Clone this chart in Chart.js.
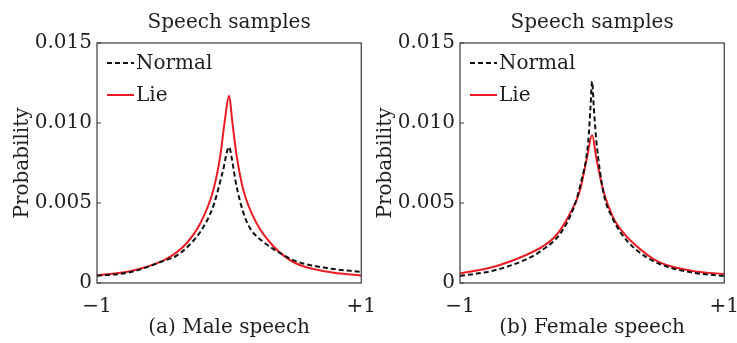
<!DOCTYPE html>
<html>
<head>
<meta charset="utf-8">
<script src="https://cdn.jsdelivr.net/npm/chart.js@4"></script>
<style>
  html, body { margin: 0; padding: 0; background: #fff; overflow: hidden; }
  body { width: 737px; height: 343px; position: relative; }
  canvas { position: absolute; top: 0; }
  #male { left: 0; }
  #female { left: 363px; }
</style>
</head>
<body>
<canvas id="male" width="388" height="343"></canvas>
<canvas id="female" width="388" height="343"></canvas>
<script>
// data (x from -1 to +1, probability)
const maleNormalX = [-1, -0.75, -0.5, -0.4, -0.31, -0.21, -0.12, -0.05, 0, 0.02, 0.05, 0.083, 0.12, 0.16, 0.27, 0.38, 0.5, 0.75, 1];
const maleNormalY = [0.00045, 0.00067, 0.00137, 0.0017, 0.0023, 0.0033, 0.0048, 0.0069, 0.0085, 0.0078, 0.0063, 0.0051, 0.0041, 0.0034, 0.0025, 0.0019, 0.00138, 0.00092, 0.0007];
const maleLieX = [-1, -0.75, -0.5, -0.4, -0.32, -0.22, -0.12, -0.068, -0.035, 0, 0.025, 0.058, 0.108, 0.21, 0.335, 0.5, 0.75, 1];
const maleLieY = [0.00048, 0.00074, 0.0014, 0.0019, 0.0025, 0.0037, 0.0058, 0.0079, 0.0100, 0.0117, 0.0100, 0.0079, 0.0058, 0.0037, 0.0023, 0.00125, 0.0007, 0.00046];

const femaleNormalX = [-1, -0.75, -0.5, -0.37, -0.24, -0.14, -0.09, -0.03, -0.013, 0, 0.013, 0.033, 0.087, 0.158, 0.22, 0.33, 0.5, 0.76, 1];
const femaleNormalY = [0.00044, 0.00077, 0.00148, 0.0021, 0.0031, 0.0047, 0.0061, 0.0088, 0.0109, 0.0126, 0.0109, 0.0088, 0.0056, 0.0040, 0.0031, 0.0021, 0.00123, 0.00065, 0.00044];
const femaleLieX = [-1, -0.75, -0.5, -0.37, -0.27, -0.17, -0.095, -0.04, 0, 0.032, 0.087, 0.158, 0.22, 0.31, 0.5, 0.75, 1];
const femaleLieY = [0.0006, 0.001, 0.00175, 0.0023, 0.003, 0.0043, 0.0057, 0.0078, 0.00925, 0.0078, 0.0057, 0.0041, 0.0033, 0.0025, 0.00133, 0.00077, 0.00056];

const seriesNames = ['Normal', 'Lie'];
const xTickValues = [-1, 1];
const xTickLabels = ['\u22121', '+1'];
const yTickValues = [0, 0.005, 0.010, 0.015];
const yTickLabels = ['0', '0.005', '0.010', '0.015'];
const chartTitle = 'Speech samples';
const yTitle = 'Probability';
const xTitles = ['(a) Male speech', '(b) Female speech'];

const FONT = 'DejaVu Serif';
const TEXT = '#1e1e1e';
const RED = '#ec1c24';
const BLACK = '#111';

function pts(xs, ys) { return xs.map((x, i) => ({ x: x, y: ys[i] })); }

// box round the plot, small inward ticks, legend inside the plot
const framePlugin = {
  id: 'frame',
  afterDatasetsDraw(chart) {
    const { ctx, chartArea: a, scales } = chart;
    ctx.save();
    ctx.strokeStyle = '#3a3a3a';
    ctx.lineWidth = 1.2;
    ctx.strokeRect(a.left, a.top, a.right - a.left, a.bottom - a.top);
    ctx.beginPath();
    yTickValues.forEach(v => {
      const y = scales.y.getPixelForValue(v);
      ctx.moveTo(a.left, y);
      ctx.lineTo(a.left + 4, y);
    });
    ctx.stroke();
    // legend
    chart.data.datasets.forEach((ds, i) => {
      const y = a.top + 20 + i * 32;
      ctx.strokeStyle = ds.borderColor;
      ctx.lineWidth = 2;
      ctx.setLineDash(ds.borderDash || []);
      ctx.beginPath();
      ctx.moveTo(a.left + 10, y);
      ctx.lineTo(a.left + 37, y);
      ctx.stroke();
      ctx.setLineDash([]);
      ctx.fillStyle = TEXT;
      ctx.font = '20px "' + FONT + '"';
      ctx.textBaseline = 'middle';
      ctx.textAlign = 'left';
      ctx.fillText(ds.label, a.left + 39, y + 1);
    });
    ctx.restore();
  }
};

function makeChart(id, normal, lie, xTitle) {
  return new Chart(document.getElementById(id), {
    type: 'line',
    data: {
      datasets: [
        { label: seriesNames[0], data: normal, borderColor: BLACK, borderDash: [5, 3], borderWidth: 2, pointRadius: 0, cubicInterpolationMode: 'monotone' },
        { label: seriesNames[1], data: lie, borderColor: RED, borderWidth: 2, pointRadius: 0, cubicInterpolationMode: 'monotone' }
      ]
    },
    options: {
      responsive: false,
      animation: false,
      devicePixelRatio: 1,
      layout: { padding: { left: 0, right: 20, top: 0, bottom: 0 } },
      plugins: {
        legend: { display: false },
        tooltip: { enabled: false },
        title: {
          display: true, text: chartTitle, color: TEXT, fullSize: false,
          font: { family: FONT, size: 20, weight: 'normal' },
          padding: { top: 11, bottom: 8 }
        }
      },
      scales: {
        x: {
          type: 'linear', min: -1, max: 1,
          grid: { display: false, drawTicks: false },
          border: { display: false },
          afterBuildTicks: s => { s.ticks = xTickValues.map(v => ({ value: v })); },
          afterFit: s => { s.height = 60; },
          ticks: {
            color: TEXT, padding: 12, maxRotation: 0, autoSkip: false,
            font: { family: FONT, size: 20 },
            callback: v => xTickLabels[xTickValues.indexOf(v)]
          },
          title: {
            display: true, text: xTitle, color: TEXT,
            font: { family: FONT, size: 20 },
            padding: { top: 0, bottom: 3 }
          }
        },
        y: {
          min: 0, max: 0.015,
          grid: { display: false, drawTicks: false },
          border: { display: false },
          afterBuildTicks: s => { s.ticks = yTickValues.map(v => ({ value: v })); },
          afterFit: s => { s.width = 97; },
          ticks: {
            color: TEXT, padding: 5, autoSkip: false,
            font: { family: FONT, size: 20 },
            callback: v => yTickLabels[yTickValues.indexOf(v)]
          },
          title: {
            display: true, text: yTitle, color: TEXT,
            font: { family: FONT, size: 20 },
            padding: { top: 11, bottom: 0 }
          }
        }
      }
    },
    plugins: [framePlugin]
  });
}

makeChart('male', pts(maleNormalX, maleNormalY), pts(maleLieX, maleLieY), xTitles[0]);
makeChart('female', pts(femaleNormalX, femaleNormalY), pts(femaleLieX, femaleLieY), xTitles[1]);
</script>
</body>
</html>
